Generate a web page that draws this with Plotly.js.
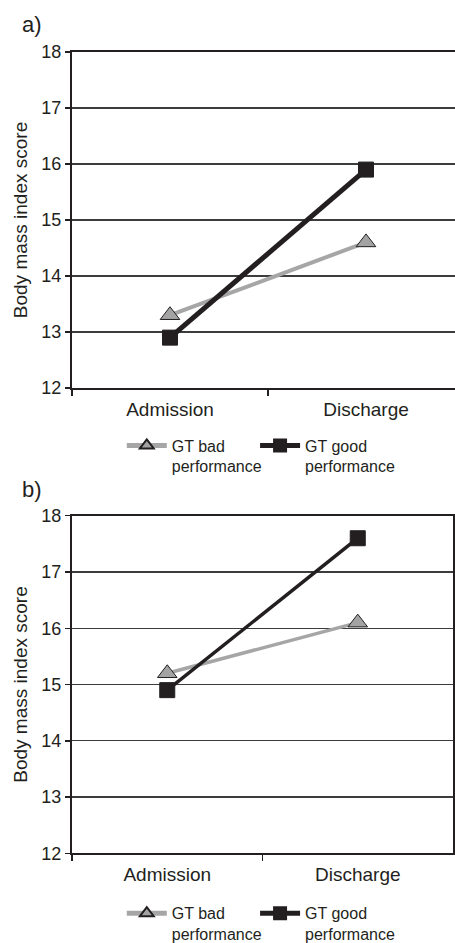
<!DOCTYPE html>
<html>
<head>
<meta charset="utf-8">
<script src="https://cdn.plot.ly/plotly-3.0.1.min.js"></script>
<style>html,body{margin:0;padding:0;background:#fff;}#chart{width:455px;height:943px;}</style>
</head>
<body>
<div id="chart"></div>
<script>
// ---- data ----
const stages = ['Admission', 'Discharge'];
const badA = [13.3, 14.6];
const goodA = [12.9, 15.9];
const badB = [15.2, 16.1];
const goodB = [14.9, 17.6];
const yTicks = [12, 13, 14, 15, 16, 17, 18];
const seriesNames = ['GT bad<br>performance', 'GT good<br>performance'];
const panelLabels = ['a)', 'b)'];
const yTitle = 'Body mass index score';

const INK = '#231f20';
const GREY = '#a6a6a6';
const FONT = 'Liberation Sans, Arial, sans-serif';

function badTrace(y, xa, ya, lg, lw) {
  return {x: stages, y: y, xaxis: xa, yaxis: ya, legend: lg, type: 'scatter', mode: 'lines+markers',
    name: seriesNames[0],
    line: {color: GREY, width: lw},
    marker: {symbol: 'triangle-up', size: 17, color: '#a3a3a3', line: {color: INK, width: 1}}};
}
function goodTrace(y, xa, ya, lg, lw) {
  return {x: stages, y: y, xaxis: xa, yaxis: ya, legend: lg, type: 'scatter', mode: 'lines+markers',
    name: seriesNames[1],
    line: {color: INK, width: lw},
    marker: {symbol: 'square', size: 15, color: INK, line: {color: INK, width: 1}}};
}

const data = [
  badTrace(badA, 'x', 'y', 'legend', 4),
  goodTrace(goodA, 'x', 'y', 'legend2', 5),
  badTrace(badB, 'x2', 'y2', 'legend3', 3.5),
  goodTrace(goodB, 'x2', 'y2', 'legend4', 3.5)
];

function xAxis(domain, range, anchor) {
  return {domain: domain, range: range, type: 'category', anchor: anchor, automargin: false,
    showline: true, linecolor: INK, linewidth: 2, mirror: true,
    ticks: 'outside', tickson: 'boundaries', ticklen: 6, tickwidth: 1.5, tickcolor: INK,
    ticklabelstandoff: 3,
    showgrid: false, zeroline: false, fixedrange: true,
    tickfont: {family: FONT, size: 19, color: INK}};
}
function yAxis(domain, anchor, mirror) {
  return {domain: domain, range: [12, 18], anchor: anchor, tickvals: yTicks, automargin: false,
    showline: true, linecolor: INK, linewidth: 2, mirror: mirror,
    ticks: 'outside', ticklen: 5, tickwidth: 1.5, tickcolor: INK,
    showgrid: true, gridcolor: '#3c3c3c', gridwidth: 1.2, zeroline: false, fixedrange: true,
    tickfont: {family: FONT, size: 18, color: INK},
    title: {text: yTitle, font: {family: FONT, size: 19, color: INK}, standoff: 9}};
}

const legendCommon = {orientation: 'h', xref: 'paper', yref: 'paper', xanchor: 'left', yanchor: 'top',
  bgcolor: 'rgba(0,0,0,0)', borderwidth: 0, valign: 'top', itemwidth: 40, itemsizing: 'constant',
  traceorder: 'normal',
  font: {family: FONT, size: 16, color: INK}};

const layout = {
  width: 455, height: 943,
  margin: {l: 72, r: 0, t: 0, b: 0, autoexpand: false},
  paper_bgcolor: '#fff', plot_bgcolor: '#fff',
  showlegend: true,
  xaxis: xAxis([0, 1], [-0.5, 1.454], 'y'),
  yaxis: yAxis([0.5885, 0.9449], 'x', false),
  xaxis2: xAxis([0, 0.9948], [-0.5, 1.5], 'y2'),
  yaxis2: yAxis([0.0951, 0.4531], 'x2', true),
  legend: Object.assign({}, legendCommon, {x: 0.13, y: 0.5456}),
  legend2: Object.assign({}, legendCommon, {x: 0.478, y: 0.5456}),
  legend3: Object.assign({}, legendCommon, {x: 0.13, y: 0.0495}),
  legend4: Object.assign({}, legendCommon, {x: 0.478, y: 0.0495}),
  annotations: [
    {text: panelLabels[0], xref: 'paper', yref: 'paper', x: -0.104, y: 0.9735, xanchor: 'center', yanchor: 'middle', showarrow: false, font: {family: FONT, size: 22, color: INK}},
    {text: panelLabels[1], xref: 'paper', yref: 'paper', x: -0.104, y: 0.4804, xanchor: 'center', yanchor: 'middle', showarrow: false, font: {family: FONT, size: 22, color: INK}}
  ]
};

Plotly.newPlot('chart', data, layout, {displayModeBar: false, staticPlot: true});
</script>
</body>
</html>
